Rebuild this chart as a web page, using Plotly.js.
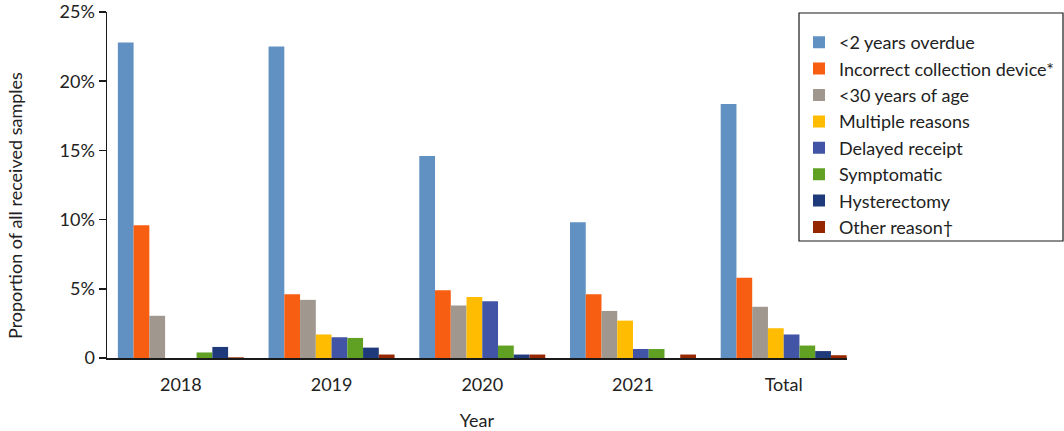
<!DOCTYPE html>
<html>
<head>
<meta charset="utf-8">
<script src="https://cdn.plot.ly/plotly-3.0.1.min.js"></script>
<style>
  html, body { margin: 0; padding: 0; background: #fff; }
  #myDiv { width: 1064px; height: 431px; }
</style>
</head>
<body>
<div id="myDiv"></div>
<script>
// categories and series (percent of all received samples)
var years = ['2018', '2019', '2020', '2021', 'Total'];
var overdue = [22.8, 22.5, 14.6, 9.8, 18.35];
var incorrectDevice = [9.6, 4.6, 4.9, 4.6, 5.8];
var under30 = [3.05, 4.2, 3.8, 3.4, 3.7];
var multipleReasons = [0, 1.7, 4.4, 2.7, 2.15];
var delayedReceipt = [0, 1.5, 4.1, 0.65, 1.7];
var symptomatic = [0.4, 1.45, 0.9, 0.65, 0.9];
var hysterectomy = [0.8, 0.75, 0.25, 0, 0.5];
var otherReason = [0.05, 0.25, 0.25, 0.25, 0.2];

var yTickVals = [0, 5, 10, 15, 20, 25];
var yTickText = ['0', '5%', '10%', '15%', '20%', '25%'];

function drawGroupedBars(){
    var series = [
        {name: '<2 years overdue', y: overdue, color: '#6190c3'},
        {name: 'Incorrect collection device*', y: incorrectDevice, color: '#f75e12'},
        {name: '<30 years of age', y: under30, color: '#a0978f'},
        {name: 'Multiple reasons', y: multipleReasons, color: '#ffbc00'},
        {name: 'Delayed receipt', y: delayedReceipt, color: '#4254a5'},
        {name: 'Symptomatic', y: symptomatic, color: '#60a023'},
        {name: 'Hysterectomy', y: hysterectomy, color: '#1f3a7a'},
        {name: 'Other reason\u2020', y: otherReason, color: '#952600'}
    ];

    var data = series.map(function(s){
        return {
            x: years,
            y: s.y,
            name: s.name,
            type: 'bar',
            marker: {color: s.color, line: {width: 0}},
            hoverinfo: 'x+y+name'
        };
    });

    var font = {family: 'Lato, "Noto Sans", sans-serif', size: 17, color: '#222'};

    // plot area: 107..847 px wide, 12..358 px high
    var plotH = 346;
    var layout = {
        width: 1064,
        height: 431,
        margin: {l: 107, r: 217, t: 12, b: 73, autoexpand: false},
        paper_bgcolor: '#fff',
        plot_bgcolor: '#fff',
        font: font,
        barmode: 'group',
        bargap: 0.164,
        bargroupgap: 0,
        xaxis: {
            type: 'category',
            range: [-0.49, 4.42],
            showline: true,
            linecolor: '#1a1a1a',
            linewidth: 1.5,
            ticks: '',
            showgrid: false,
            zeroline: false,
            tickfont: {size: 18},
            ticklabelstandoff: 10,
            title: {text: 'Year', font: {size: 18}, standoff: 31}
        },
        yaxis: {
            range: [0, 25],
            tickvals: yTickVals,
            ticktext: yTickText,
            showline: true,
            linecolor: '#1a1a1a',
            linewidth: 1.5,
            ticks: 'outside',
            ticklen: 7,
            tickwidth: 1.5,
            tickcolor: '#1a1a1a',
            ticklabeloverflow: 'allow',
            showgrid: false,
            zeroline: false,
            tickfont: {size: 18}
        },
        annotations: [{
            text: 'Proportion of all received samples',
            xref: 'paper', yref: 'paper',
            x: (15 - 107) / 740, y: (358 - 206) / plotH,
            xanchor: 'center', yanchor: 'middle',
            textangle: -90,
            showarrow: false,
            font: {size: 18, color: '#222'}
        }],
        shapes: [{
            type: 'rect',
            xref: 'paper', yref: 'paper',
            x0: (799 - 107) / 740, x1: (1063 - 107) / 740,
            y0: (358 - 241) / plotH, y1: (358 - 13) / plotH,
            line: {color: '#1a1a1a', width: 1.2},
            fillcolor: 'rgba(0,0,0,0)',
            layer: 'above'
        }],
        legend: {
            xref: 'container',
            yref: 'container',
            x: 799 / 1064,
            y: 1 - 24 / 431,
            xanchor: 'left',
            yanchor: 'top',
            borderwidth: 0,
            bgcolor: 'rgba(0,0,0,0)',
            font: {size: 18, color: '#222'},
            traceorder: 'normal'
        },
        showlegend: true
    };

    Plotly.newPlot('myDiv', data, layout, {displayModeBar: false, staticPlot: true});
}

drawGroupedBars();
</script>
</body>
</html>
